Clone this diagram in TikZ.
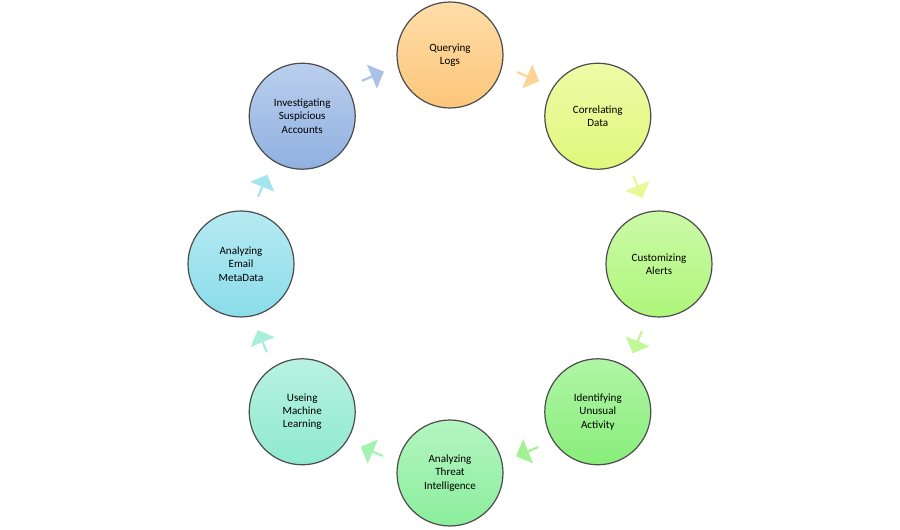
\documentclass[tikz,border=0pt]{standalone}
\usepackage{fontspec}
\setmainfont{Carlito}
\usetikzlibrary{shapes.arrows,calc}
\begin{document}
\begin{tikzpicture}[x=0.75pt,y=0.75pt,
  stage/.style={circle,minimum size=106*0.75pt,inner sep=0pt,draw=black!70,line width=0.9pt,
    align=center,font=\fontsize{8.3pt}{10pt}\selectfont,text width=60*0.75pt},
  arr/.style={single arrow,minimum height=24*0.75pt,minimum width=26*0.75pt,
    single arrow head extend=3*0.75pt,inner sep=0pt,draw=none}]
\useasboundingbox (0,0) rectangle (900,529);
\definecolor{c1}{HTML}{FCC67A}\definecolor{c1l}{HTML}{FFDDA8}
\definecolor{c2}{HTML}{E1F77A}\definecolor{c2l}{HTML}{EEFBA8}
\definecolor{c3}{HTML}{AEF67A}\definecolor{c3l}{HTML}{CCFAA8}
\definecolor{c4}{HTML}{88EE7A}\definecolor{c4l}{HTML}{B0F5A6}
\definecolor{c5}{HTML}{8AEE9C}\definecolor{c5l}{HTML}{B4F5C0}
\definecolor{c6}{HTML}{8EEACC}\definecolor{c6l}{HTML}{B8F2E0}
\definecolor{c7}{HTML}{8ADCEA}\definecolor{c7l}{HTML}{B6EAF2}
\definecolor{c8}{HTML}{8FB0E0}\definecolor{c8l}{HTML}{BBCFEE}
\coordinate (O) at (450,265);
\foreach \k/\t in {1/Querying Logs,2/Correlating\\Data,3/Customizing\\Alerts,4/Identifying\\Unusual\\Activity,5/Analyzing\\Threat\\Intelligence,6/Useing\\Machine\\Learning,7/Analyzing\\Email\\MetaData,8/Investigating\\Suspicious\\Accounts}{
  \pgfmathsetmacro{\a}{90-45*(\k-1)}
  \node[stage,top color=c\k l,bottom color=c\k] (s\k) at ($(O)+(\a:209)$) {\t};
  \pgfmathsetmacro{\b}{\a-22.5}
  \pgfmathsetmacro{\r}{\b-90}
  \node[arr,fill=c\k l!60!c\k,rotate=\r] (a\k) at ($(O)+(\b:203)$) {};
}
\end{tikzpicture}
\end{document}
